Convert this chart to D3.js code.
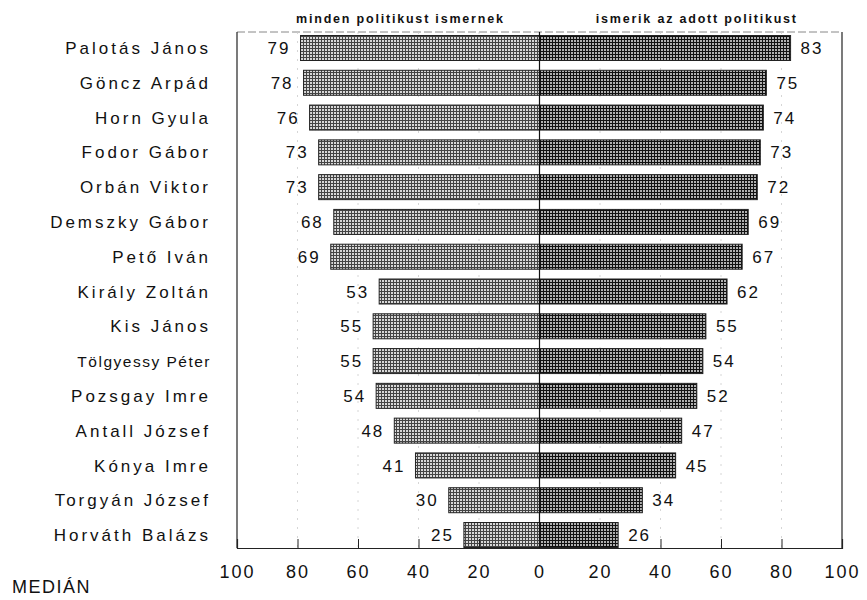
<!DOCTYPE html>
<html>
<head>
<meta charset="utf-8">
<script src="https://cdn.jsdelivr.net/npm/d3@7"></script>
<style>
  body { margin: 0; background: #fff; }
  text { font-family: "Liberation Sans", Arial, sans-serif; fill: #111; }
</style>
</head>
<body>
<script>
// Politicians, top to bottom
var names = ["Palotás János", "Göncz Arpád", "Horn Gyula", "Fodor Gábor", "Orbán Viktor",
  "Demszky Gábor", "Pető Iván", "Király Zoltán", "Kis János", "Tölgyessy Péter",
  "Pozsgay Imre", "Antall József", "Kónya Imre", "Torgyán József", "Horváth Balázs"];

// left: minden politikust ismernek
var leftValues = [79, 78, 76, 73, 73, 68, 69, 53, 55, 55, 54, 48, 41, 30, 25];
// right: ismerik az adott politikust
var rightValues = [83, 75, 74, 73, 72, 69, 67, 62, 55, 54, 52, 47, 45, 34, 26];

var headers = ["minden politikust ismernek", "ismerik az adott politikust"];
var tickValues = [-100, -80, -60, -40, -20, 0, 20, 40, 60, 80, 100];

var width = 867,
    height = 600;

var svg = d3.select("body")
  .append("svg")
  .attr("width", width)
  .attr("height", height);

// raster-like hatch patterns
var defs = svg.append("defs");
function hatch(id, bg, color) {
  var p = defs.append("pattern")
    .attr("id", id)
    .attr("patternUnits", "userSpaceOnUse")
    .attr("width", 3)
    .attr("height", 3);
  p.append("rect").attr("width", 3).attr("height", 3).attr("fill", bg);
  p.append("rect").attr("x", 0).attr("y", 0).attr("width", 1).attr("height", 3).attr("fill", color);
  p.append("rect").attr("x", 0).attr("y", 0).attr("width", 3).attr("height", 1).attr("fill", color);
}
hatch("hatchL", "#d8d8d8", "#444");
hatch("hatchR", "#b0b0b0", "#111");

var yTop = 32, yBottom = 548;
var x = d3.scaleLinear().domain([-100, 100]).range([237, 842]);
var y = d3.scalePoint().domain(names).range([48, 535]);
var barH = 25;

// frame
svg.append("line")
  .attr("x1", x(-100)).attr("x2", x(100))
  .attr("y1", yTop).attr("y2", yTop)
  .attr("stroke", "#888").attr("stroke-width", 1).attr("stroke-dasharray", "8,3");
svg.append("line")
  .attr("x1", x(-100)).attr("x2", x(-100))
  .attr("y1", yTop).attr("y2", yBottom)
  .attr("stroke", "#222").attr("stroke-width", 1.2);
svg.append("line")
  .attr("x1", x(100)).attr("x2", x(100))
  .attr("y1", yTop).attr("y2", yBottom)
  .attr("stroke", "#222").attr("stroke-width", 1.2);

// faint grid
svg.selectAll(".grid")
  .data(tickValues.filter(function(d){ return Math.abs(d) != 100 && d != 0; }))
  .enter().append("line")
  .attr("class", "grid")
  .attr("x1", function(d){ return x(d); })
  .attr("x2", function(d){ return x(d); })
  .attr("y1", yTop).attr("y2", yBottom)
  .attr("stroke", "#ccc").attr("stroke-width", 0.8).attr("stroke-dasharray", "2,7");

// bars
svg.selectAll(".barL")
  .data(names)
  .enter().append("rect")
  .attr("class", "barL")
  .attr("x", function(d, i){ return x(-leftValues[i]); })
  .attr("y", function(d){ return y(d) - barH / 2; })
  .attr("width", function(d, i){ return x(0) - x(-leftValues[i]); })
  .attr("height", barH)
  .attr("fill", "url(#hatchL)")
  .attr("stroke", "#222").attr("stroke-width", 1);

svg.selectAll(".barR")
  .data(names)
  .enter().append("rect")
  .attr("class", "barR")
  .attr("x", x(0))
  .attr("y", function(d){ return y(d) - barH / 2; })
  .attr("width", function(d, i){ return x(rightValues[i]) - x(0); })
  .attr("height", barH)
  .attr("fill", "url(#hatchR)")
  .attr("stroke", "#222").attr("stroke-width", 1);

// center line
svg.append("line")
  .attr("x1", x(0)).attr("x2", x(0))
  .attr("y1", yTop).attr("y2", yBottom)
  .attr("stroke", "#111").attr("stroke-width", 1.2);

// value labels
svg.selectAll(".valL")
  .data(names)
  .enter().append("text")
  .attr("class", "valL")
  .attr("x", function(d, i){ return x(-leftValues[i]) - 10; })
  .attr("y", function(d){ return y(d); })
  .attr("dy", "0.36em")
  .attr("text-anchor", "end")
  .attr("font-size", 17)
  .style("letter-spacing", "2px")
  .text(function(d, i){ return leftValues[i]; });

svg.selectAll(".valR")
  .data(names)
  .enter().append("text")
  .attr("class", "valR")
  .attr("x", function(d, i){ return x(rightValues[i]) + 10; })
  .attr("y", function(d){ return y(d); })
  .attr("dy", "0.36em")
  .attr("font-size", 17)
  .style("letter-spacing", "2px")
  .text(function(d, i){ return rightValues[i]; });

// names
svg.selectAll(".name")
  .data(names)
  .enter().append("text")
  .attr("class", "name")
  .attr("x", 211)
  .attr("y", function(d){ return y(d); })
  .attr("dy", "0.36em")
  .attr("text-anchor", "end")
  .attr("font-size", function(d){ return d == "Tölgyessy Péter" ? 15.5 : 17; })
  .style("letter-spacing", function(d){ return d == "Tölgyessy Péter" ? "1.5px" : "3px"; })
  .text(function(d){ return d; });

// headers
svg.selectAll(".head")
  .data(headers)
  .enter().append("text")
  .attr("class", "head")
  .attr("x", function(d, i){ return i == 0 ? x(-46) : x(52); })
  .attr("y", 23)
  .attr("text-anchor", "middle")
  .attr("font-size", 12.5)
  .attr("font-weight", "bold")
  .style("letter-spacing", "1.8px")
  .text(function(d){ return d; });

// bottom axis
var axis = d3.axisTop(x)
  .tickValues(tickValues)
  .tickSize(9)
  .tickFormat(function(d){ return Math.abs(d); });
var ax = svg.append("g")
  .attr("transform", "translate(0," + yBottom + ")")
  .call(axis);
ax.select(".domain").attr("stroke", "#222").attr("stroke-width", 1.2);
ax.selectAll(".tick line").attr("stroke", "#222");
ax.selectAll(".tick text")
  .attr("y", 30)
  .attr("dy", null)
  .attr("font-size", 18)
  .attr("font-family", "Liberation Sans, Arial, sans-serif")
  .style("letter-spacing", "2px")
  .attr("fill", "#111");

svg.append("text")
  .attr("x", 12)
  .attr("y", 593)
  .attr("font-size", 18)
  .style("letter-spacing", "1.5px")
  .text("MEDIÁN");
</script>
</body>
</html>
